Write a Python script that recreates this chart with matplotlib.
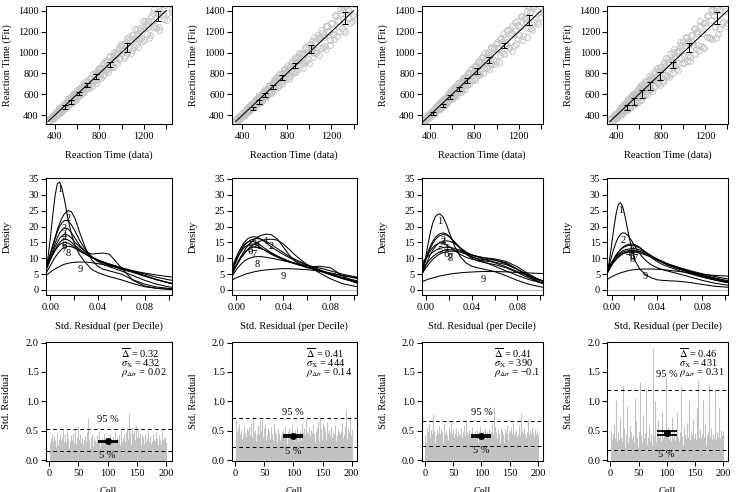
#!/usr/bin/env python3
"""Fit diagnostics for four models: RT data vs fit, residual densities per decile, residuals per cell."""

import numpy as np
import matplotlib

matplotlib.use('Agg')
import matplotlib.pyplot as plt

# ---------------------------------------------------------------- top row data
RT_DATA = [
    340, 352, 363, 373, 382, 391, 399, 407, 414, 421,
    428, 435, 441, 447, 453, 459, 465, 471, 477, 483,
    489, 495, 501, 507, 513, 519, 525, 531, 537, 543,
    549, 555, 561, 567, 573, 579, 586, 593, 600, 607,
    614, 621, 628, 635, 642, 649, 656, 664, 672, 680,
    688, 696, 704, 712, 720, 728, 737, 746, 755, 764,
    773, 782, 791, 800, 810, 820, 830, 840, 850, 860,
    870, 880, 891, 902, 913, 924, 935, 946, 957, 968,
    980, 992, 1004, 1016, 1028, 1040, 1052, 1064, 1077, 1090,
    1103, 1116, 1129, 1142, 1155, 1169, 1183, 1197, 1211, 1225,
    1240, 1255, 1270, 1285, 1300, 1316, 1332, 1348, 1364, 1380,
    1397, 1414, 1431, 1448,
    346, 357, 368, 378, 387, 395, 403, 411, 418, 425,
    431, 438, 444, 450, 456, 462, 468, 474, 480, 486,
    492, 498, 504, 510, 516, 522, 528, 534, 540, 546,
    552, 558, 564, 570, 576, 583, 590, 597, 604, 611,
    618, 625, 632, 639, 646, 653, 660, 668, 676, 684,
    692, 700, 708, 716, 724, 733, 742, 751, 760, 769,
    778, 787, 796, 805, 815, 825, 835, 845, 855, 865,
    875, 886, 897, 908, 919, 930, 941, 952, 963, 974,
    986, 998, 1010, 1022, 1034, 1046, 1058, 1071, 1084, 1097,
    1110, 1123, 1136, 1149, 1162, 1176, 1190, 1204, 1218, 1233,
    1248, 1263, 1278, 1293, 1308, 1324, 1340, 1356, 1372, 1389,
    1405, 1422, 1440, 1450,
]

# fitted minus observed RT, one list per model
RT_OFFSET_1 = [
    8, -12, 15, -5, 20, -18, 3, 12, -9, 22,
    -14, 6, 25, -20, 10, -3, 18, -25, 14, -8,
    28, -15, 5, 20, -22, 12, -6, 30, -18, 9,
    -28, 16, 2, 33, -12, 24, -30, 8, 19, -20,
    35, -10, 22, -34, 14, 4, 38, -24, 11, -16,
    30, -38, 18, 42, -8, 26, -32, 45, -20, 12,
    36, -42, 22, 50, -15, 30, -45, 55, -25, 8,
    48, -35, 62, 15, -50, 40, 68, -28, 25, 58,
    -40, 72, 18, 55, -60, 35, 80, -22, 48, -70,
    65, 20, -55, 85, -30, 50, -75, 40, 90, -45,
    60, -85, 30, 95, -50, 70, -90, 45, 100, -60,
    80, -40, 110, -20,
    -10, 16, -4, 11, -17, 7, 19, -13, 5, -21,
    12, 24, -9, 17, -26, 3, 21, -11, 27, -17,
    8, -29, 23, 1, -24, 31, -10, 18, -32, 14,
    36, -21, 7, -36, 26, 11, -40, 20, 33, -14,
    -30, 18, 40, -26, 7, -44, 30, 16, -37, 44,
    -22, 10, -47, 36, 21, -52, 48, -12, 28, -56,
    20, 58, -34, 40, -62, 14, 52, -48, 65, -18,
    -58, 32, 70, -44, 22, -72, 55, 38, -66, 76,
    -35, 88, 12, -78, 60, -48, 95, 30, -85, 70,
    -62, 100, 25, -95, 75, -40, 110, -88, 55, 15,
    -110, 85, -30, 120, -70, 40, -120, 105, -15, 70,
    -95, 60, 20, -60,
]
RT_OFFSET_2 = [
    -6, 14, -10, 18, 2, -16, 21, -4, 11, -19,
    16, -8, 24, 3, -22, 13, -12, 27, -6, 19,
    -24, 10, 29, -14, 6, 25, -20, 15, -9, 32,
    4, -26, 21, 11, -31, 28, -7, 36, -18, 14,
    -33, 26, 7, 40, -21, 17, -36, 32, 2, 44,
    -27, 20, 48, -12, 35, -40, 14, 52, -30, 38,
    -18, 56, 10, -44, 45, 24, -52, 60, 18, -35,
    66, 30, -48, 55, 12, 72, -38, 42, -60, 78,
    28, -52, 64, 15, 85, -45, 50, -68, 92, 35,
    -58, 75, 20, -80, 98, 40, -65, 85, 10, -95,
    105, 50, -70, 90, 25, -100, 115, 60, -80, 95,
    -50, 120, 30, -70,
    14, -8, 19, -15, 4, 22, -11, 9, -20, 17,
    -5, 26, -16, 8, 29, -22, 13, -4, 31, -19,
    24, 6, -28, 35, -9, 19, -34, 27, 2, -30,
    38, -15, 24, -39, 11, 42, -28, 6, 45, -35,
    21, -44, 33, 48, -17, 29, -50, 40, -6, 53,
    -38, 25, 58, -46, 15, 62, -30, 44, -58, 9,
    66, -42, 28, 70, -65, 48, -20, 75, -50, 36,
    80, -72, 22, 84, -40, 58, -88, 30, 92, -60,
    45, -95, 72, 15, -80, 100, -38, 65, -105, 55,
    110, -70, 35, -115, 90, 20, -120, 80, -45, 125,
    -90, 40, 130, -60, 100, -125, 75, -30, 140, -85,
    60, -100, 45, -80,
]
RT_OFFSET_3 = [
    10, -4, 17, -13, 6, 20, -9, 14, -17, 4,
    23, -11, 9, -21, 19, 1, -15, 26, -7, 16,
    -19, 30, 7, -25, 18, -4, 33, -16, 22, -11,
    27, -29, 12, 35, -6, 20, -33, 29, -13, 38,
    9, -36, 31, -18, 42, 15, -27, 46, -9, 33,
    -42, 24, 50, -20, 38, 6, -48, 55, -14, 44,
    -36, 58, 20, -50, 62, 30, -28, 68, -55, 40,
    10, 75, -42, 52, -62, 80, 22, -48, 88, -30,
    60, -72, 95, 25, -55, 102, 45, -82, 70, -20,
    108, -60, 55, 115, -90, 40, 120, -70, 30, 125,
    -85, 65, 130, -55, 90, -100, 110, 20, -75, 135,
    -60, 100, -30, 60,
    -7, 13, -15, 21, -3, 16, -22, 10, 25, -12,
    18, -27, 6, 29, -18, 22, -5, 33, -24, 14,
    -31, 26, 9, -35, 20, 37, -15, 28, -38, 5,
    32, -41, 18, 44, -27, 12, 47, -34, 24, -46,
    50, -8, 38, -52, 27, 55, -40, 18, -58, 45,
    -25, 60, 32, -62, 48, -15, 66, -52, 36, 70,
    -45, 24, 75, -68, 50, -30, 82, -60, 40, 88,
    -75, 28, 95, -50, 65, -90, 35, 100, -70, 58,
    -100, 80, 20, -110, 92, -45, 115, -85, 50, 120,
    -65, 98, -120, 30, 130, -95, 72, -40, 135, -110,
    85, 25, -130, 140, -70, 110, -50, 145, -100, 60,
    120, -40, 80, -90,
]
RT_OFFSET_4 = [
    -12, 18, -20, 9, 25, -16, 4, -26, 21, -8,
    30, -22, 13, -32, 6, 27, -18, 35, -28, 10,
    -35, 24, 40, -15, 18, -40, 32, -6, 45, -30,
    15, -45, 38, 5, -50, 28, 48, -22, 12, -55,
    42, -35, 55, 8, -60, 35, -18, 58, -42, 20,
    62, -50, 30, -65, 48, 10, -70, 55, -30, 68,
    -58, 40, 75, -45, 20, -80, 62, 35, -72, 82,
    15, -90, 70, -40, 88, 25, -95, 60, -55, 100,
    -30, 78, -100, 45, 110, -65, 30, -110, 90, -20,
    120, -80, 55, -120, 100, 15, -130, 85, -60, 130,
    -100, 60, 140, -40, 95, -140, 70, -80, 150, 20,
    -110, 90, -50, 40,
    16, -22, 6, 28, -14, 20, -30, 11, 33, -19,
    -8, 36, -25, 17, 40, -35, 8, 43, -20, 30,
    -45, 14, 48, -28, 36, -52, 22, 50, -38, 6,
    55, -48, 30, -60, 42, 18, -62, 52, -26, 64,
    -70, 34, 66, -45, 10, 72, -58, 46, -78, 24,
    80, -40, 58, -85, 36, 88, -66, 14, 90, -75,
    48, -95, 70, 25, -100, 82, -48, 105, -82, 40,
    -110, 95, 30, -105, 115, -62, 78, -120, 50, 125,
    -90, 108, -40, 130, -115, 66, -135, 92, 20, 140,
    -125, 80, -60, 150, -100, 110, -145, 45, 135, -80,
    155, -130, 70, -150, 120, -95, 160, -60, 100, -140,
    90, -120, 130, -70,
]

# decile error bars (observed decile, fitted interval)
DEC_X_1 = [495, 549, 615, 690, 773, 893, 1051, 1328]
DEC_LO_1 = [464, 512, 592, 666, 749, 865, 1009, 1297]
DEC_HI_1 = [496, 544, 624, 704, 794, 913, 1089, 1394]
DEC_X_2 = [496, 547, 601, 675, 759, 870, 1020, 1319]
DEC_LO_2 = [448, 506, 570, 647, 737, 849, 993, 1275]
DEC_HI_2 = [480, 544, 608, 688, 785, 903, 1073, 1384]
DEC_X_3 = [430, 514, 580, 660, 735, 825, 930, 1065, 1289]
DEC_LO_3 = [400, 480, 554, 634, 711, 794, 897, 1041, 1265]
DEC_HI_3 = [432, 512, 592, 672, 753, 849, 954, 1095, 1361]
DEC_X_4 = [490, 559, 629, 701, 791, 905, 1056, 1302]
DEC_LO_4 = [448, 496, 567, 640, 737, 849, 1009, 1275]
DEC_HI_4 = [496, 560, 640, 714, 817, 913, 1089, 1384]

# ---------------------------------------------------------------- middle row data
DENS_X = [-0.004, -0.002, 0.000, 0.002, 0.004, 0.006, 0.008, 0.010, 0.012, 0.015, 0.018, 0.021,
          0.025, 0.030, 0.035, 0.040, 0.045, 0.050, 0.060, 0.070, 0.080, 0.090, 0.100, 0.104]

DENS_1 = [
    [5.5, 10, 16, 23, 29.5, 33.5, 34, 32, 28.5, 22.5, 17.5, 14, 11, 8.5, 6.5, 5.5, 4.8, 4.2, 3.2, 2.0, 1.0, 0.5, 0.3, 0.2],
    [7, 9, 11.5, 14, 16.5, 19, 21, 22.8, 24, 25, 24.6, 22.5, 18, 13, 9.5, 7.5, 6.5, 6, 5, 3.2, 1.8, 0.9, 0.5, 0.4],
    [6.5, 8.5, 11, 13.5, 16, 18.3, 20, 21.2, 21.9, 21.8, 20.5, 18.5, 15.5, 12.5, 10.5, 9, 8, 7.3, 6, 4.5, 3, 1.8, 1, 0.8],
    [6, 8, 10, 12.5, 14.5, 16.5, 18, 19, 19.5, 19.3, 18, 16.3, 14, 12, 11.3, 11.5, 11.6, 11.3, 7, 3, 1.2, 0.5, 0.2, 0.15],
    [6, 7.5, 9.5, 11.5, 13.5, 15, 16.3, 17.1, 17.5, 17.3, 16.3, 15, 13.5, 12, 10.5, 9.5, 8.5, 7.8, 6.5, 5.5, 4.3, 3.2, 2.3, 2],
    [6.5, 8, 9.5, 11, 12.5, 14, 15, 15.7, 16, 15.8, 15, 14, 12.8, 11.5, 10.3, 9.3, 8.5, 7.8, 6.8, 5.8, 4.5, 3.3, 2.3, 2],
    [7, 8.3, 9.7, 11, 12.3, 13.4, 14.3, 14.8, 15, 14.8, 14.2, 13.4, 12.3, 11.2, 10.2, 9.5, 8.8, 8.2, 7, 5.8, 4.5, 3.2, 2.2, 1.8],
    [5, 6.3, 7.6, 9, 10.2, 11.3, 12.2, 12.9, 13.4, 13.8, 13.6, 13.1, 12.3, 11.2, 10.3, 9.5, 8.8, 8.1, 7, 6, 5, 4, 3.2, 3],
    [4.5, 5, 5.6, 6.1, 6.6, 7, 7.4, 7.8, 8.1, 8.4, 8.6, 8.75, 8.8, 8.8, 8.6, 8.3, 8, 7.6, 6.8, 6, 5.3, 4.7, 4.2, 4],
]
DENS_2 = [
    [4.5, 6, 7.5, 9, 10.5, 11.8, 13, 14, 14.8, 15.8, 16.6, 17.2, 17.6, 17.4, 16, 13.5, 11, 9, 7, 7.5, 7, 4.5, 2.5, 2],
    [5, 6.3, 7.6, 8.8, 10, 11, 12, 12.8, 13.5, 14.3, 15, 15.5, 15.9, 16, 15.7, 14.5, 12.8, 11, 8, 5.5, 3.5, 2, 1.2, 1],
    [6, 8, 10, 11.8, 13.3, 14.6, 15.5, 16.2, 16.6, 16.8, 16.6, 16, 15, 13.5, 12.3, 11.2, 10.2, 9.3, 7.8, 6.3, 4.8, 3.6, 2.7, 2.4],
    [5, 7, 9, 10.8, 12.3, 13.5, 14.5, 15.2, 15.7, 16.1, 16.2, 16, 15.4, 14.3, 13, 11.8, 10.6, 9.6, 8, 6.5, 5, 3.6, 2.5, 2.2],
    [6.5, 8.5, 10.3, 11.8, 13, 14, 14.7, 15.1, 15.3, 15.2, 14.7, 14, 12.9, 11.7, 10.7, 9.8, 9, 8.4, 7.3, 6.2, 5, 4, 3.1, 2.8],
    [5.5, 7.5, 9.3, 10.8, 12, 13, 13.7, 14.2, 14.5, 14.4, 14, 13.3, 12.3, 11.2, 10.3, 9.5, 8.8, 8.2, 7.1, 6, 4.8, 3.7, 2.8, 2.5],
    [4.5, 6.2, 7.8, 9.2, 10.4, 11.4, 12.2, 12.8, 13.2, 13.5, 13.4, 13, 12.4, 11.5, 10.6, 9.8, 9, 8.3, 7.2, 6.2, 5.3, 4.5, 3.8, 3.5],
    [4, 5.2, 6.3, 7.3, 8.1, 8.8, 9.4, 9.8, 10.1, 10.4, 10.5, 10.5, 10.3, 10, 9.6, 9.2, 8.8, 8.4, 7.7, 7, 6, 5, 4.2, 4],
    [3, 3.4, 3.8, 4.1, 4.4, 4.7, 5, 5.2, 5.4, 5.7, 5.9, 6.1, 6.3, 6.5, 6.6, 6.7, 6.7, 6.6, 6.4, 6, 5.3, 4.6, 4, 3.8],
]
DENS_3 = [
    [4.5, 7.5, 11, 15, 18.5, 21.3, 23, 23.8, 24, 23, 20.5, 17.5, 13.8, 10.5, 8.5, 7.5, 7, 6.6, 5.8, 4.5, 3, 1.8, 1, 0.8],
    [6, 8, 10.2, 12.3, 14, 15.4, 16.5, 17.2, 17.7, 18, 17.6, 16.7, 15, 13, 11.3, 10, 9.2, 8.7, 8, 7, 5.5, 3.8, 2.3, 2],
    [5.5, 7.5, 9.6, 11.6, 13.3, 14.7, 15.8, 16.6, 17.1, 17.5, 17.3, 16.6, 15.2, 13.2, 11.5, 10.3, 9.8, 9.6, 9.4, 8.6, 6.5, 4.2, 2.5, 2],
    [4.5, 6.2, 8, 9.8, 11.3, 12.6, 13.6, 14.4, 15, 15.4, 15.5, 15.3, 14.6, 13.3, 12, 11, 10.5, 10.2, 9.8, 9, 7.3, 5, 3, 2.5],
    [7, 8.6, 10.1, 11.4, 12.5, 13.4, 14.1, 14.5, 14.8, 14.7, 14.2, 13.5, 12.4, 11.2, 10.3, 9.7, 9.4, 9.2, 8.8, 8, 6.5, 4.6, 3, 2.6],
    [8.5, 9.3, 10, 10.7, 11.3, 11.9, 12.4, 12.8, 13.1, 13.4, 13.5, 13.4, 13.1, 12.5, 11.8, 11.1, 10.6, 10.2, 9.5, 8.3, 6.5, 4.6, 3.2, 2.8],
    [6, 7, 8, 9, 9.8, 10.5, 11.1, 11.6, 12, 12.4, 12.6, 12.7, 12.6, 12.2, 11.6, 11, 10.4, 9.8, 8.6, 7.3, 5.8, 4.3, 3, 2.7],
    [5, 6, 7, 8, 8.9, 9.7, 10.3, 10.9, 11.3, 11.8, 12, 12.2, 12.2, 11.9, 11.3, 10.6, 9.8, 9, 7.5, 6, 4.6, 3.3, 2.3, 2],
    [2.5, 2.8, 3.1, 3.4, 3.6, 3.8, 4, 4.2, 4.4, 4.6, 4.8, 5, 5.2, 5.4, 5.55, 5.65, 5.75, 5.8, 5.8, 5.7, 5.5, 5.35, 5.2, 5.15],
]
DENS_4 = [
    [5.5, 9, 14, 19.5, 24, 27, 27.5, 26, 23, 17.5, 12.5, 9, 6.5, 4.8, 3.8, 3.2, 3, 2.9, 2.7, 2.3, 1.7, 1.2, 0.9, 0.8],
    [6, 8, 10.5, 13, 15, 16.6, 17.6, 18, 17.9, 17, 15.3, 13.5, 11.3, 9.3, 7.9, 7, 6.4, 5.9, 5, 4, 3, 2.2, 1.6, 1.4],
    [5, 6.5, 8, 9.5, 10.8, 11.9, 12.8, 13.5, 14, 14.4, 14.5, 14.2, 13.4, 11.8, 10.2, 9, 8, 7.3, 6, 5, 4, 3.2, 2.5, 2.3],
    [5.5, 7, 8.5, 9.8, 11, 12, 12.8, 13.3, 13.7, 14, 14, 13.8, 13.2, 12, 10.8, 9.6, 8.6, 7.8, 6.5, 5.3, 4.2, 3.2, 2.4, 2.2],
    [6, 7.3, 8.5, 9.6, 10.5, 11.3, 11.9, 12.4, 12.7, 12.9, 13, 13, 12.6, 11.7, 10.6, 9.6, 8.6, 7.8, 6.5, 5.4, 4.4, 3.5, 2.8, 2.6],
    [6.5, 7.6, 8.7, 9.6, 10.4, 11, 11.5, 11.9, 12.2, 12.4, 12.5, 12.4, 12.1, 11.3, 10.4, 9.5, 8.7, 8, 6.8, 5.6, 4.6, 3.6, 2.8, 2.6],
    [6, 7.1, 8.2, 9.1, 9.9, 10.6, 11.1, 11.5, 11.8, 12.1, 12.2, 12.3, 12.1, 11.5, 10.7, 9.8, 9, 8.2, 6.9, 5.8, 4.8, 3.9, 3.1, 2.9],
    [5.2, 6.5, 7.7, 8.7, 9.6, 10.3, 10.9, 11.4, 11.7, 11.9, 12, 11.9, 11.6, 11, 10.3, 9.5, 8.8, 8.1, 7, 6, 5.1, 4.3, 3.6, 3.4],
    [3.3, 3.7, 4.1, 4.5, 4.8, 5.1, 5.4, 5.6, 5.8, 6.1, 6.3, 6.45, 6.55, 6.6, 6.6, 6.5, 6.4, 6.2, 5.8, 5.3, 4.9, 4.6, 4.4, 4.3],
]

# ---------------------------------------------------------------- bottom row data
RESID_1 = [
    0.31, 0.22, 0.38, 0.27, 0.45, 0.24, 0.33, 0.19, 0.41, 0.28, 0.35, 0.23, 0.30, 0.47, 0.26, 0.21, 0.36, 0.29, 0.43, 0.25,
    0.34, 0.20, 0.39, 0.52, 0.27, 0.31, 0.22, 0.44, 0.30, 0.26, 0.49, 0.24, 0.37, 0.21, 0.33, 0.28, 0.42, 0.25, 0.35, 0.19,
    0.46, 0.29, 0.23, 0.55, 0.32, 0.27, 0.40, 0.21, 0.58, 0.30, 0.24, 0.36, 0.45, 0.26, 0.31, 0.20, 0.38, 0.28, 0.34, 0.23,
    0.41, 0.27, 0.33, 0.22, 0.48, 0.30, 0.72, 0.25, 0.36, 0.21, 0.39, 0.28, 0.32, 0.44, 0.24, 0.29, 0.37, 0.20, 0.34, 0.26,
    0.31, 0.42, 0.23, 0.35, 0.28, 0.50, 0.22, 0.33, 0.27, 0.38, 0.25, 0.30, 0.46, 0.21, 0.34, 0.29, 0.24, 0.40, 0.26, 0.32,
    0.28, 0.37, 0.22, 0.45, 0.30, 0.25, 0.35, 0.19, 0.41, 0.27, 0.33, 0.48, 0.24, 0.31, 0.26, 0.39, 0.21, 0.36, 0.29, 0.43,
    0.25, 0.34, 0.51, 0.23, 0.30, 0.38, 0.27, 0.44, 0.22, 0.32, 0.47, 0.26, 0.55, 0.29, 0.36, 0.62, 0.80, 0.33, 0.48, 0.28,
    0.57, 0.31, 0.44, 0.25, 0.52, 0.35, 0.29, 0.60, 0.27, 0.40, 0.33, 0.54, 0.23, 0.38, 0.46, 0.30, 0.26, 0.42, 0.35, 0.24,
    0.39, 0.28, 0.33, 0.45, 0.22, 0.31, 0.37, 0.26, 0.49, 0.30, 0.24, 0.35, 0.41, 0.27, 0.32, 0.21, 0.44, 0.29, 0.36, 0.25,
    0.33, 0.47, 0.23, 0.30, 0.38, 0.26, 0.42, 0.31, 0.22, 0.35, 0.28, 0.51, 0.25, 0.34, 0.29, 0.40, 0.24, 0.37, 0.27, 0.30,
]
RESID_2 = [
    0.68, 0.35, 0.47, 0.29, 0.55, 0.38, 0.62, 0.31, 0.44, 0.27, 0.51, 0.36, 0.42, 0.30, 0.58, 0.33, 0.46, 0.26, 0.40, 0.53,
    0.37, 0.49, 0.28, 0.56, 0.34, 0.43, 0.31, 0.64, 0.39, 0.71, 0.35, 0.48, 0.27, 0.52, 0.41, 0.33, 0.45, 0.29, 0.60, 0.38,
    0.44, 0.30, 0.66, 0.36, 0.50, 0.28, 0.69, 0.40, 0.55, 0.32, 0.47, 0.62, 0.35, 0.43, 0.26, 0.54, 0.39, 0.31, 0.48, 0.36,
    0.42, 0.57, 0.29, 0.45, 0.34, 0.61, 0.38, 0.27, 0.50, 0.33, 0.44, 0.30, 0.39, 0.53, 0.28, 0.46, 0.35, 0.41, 0.31, 0.48,
    0.37, 0.29, 0.52, 0.40, 0.33, 0.58, 0.36, 0.44, 0.27, 0.49, 0.38, 0.31, 0.55, 0.42, 0.34, 0.47, 0.30, 0.60, 0.39, 0.45,
    0.33, 0.51, 0.41, 0.28, 0.46, 0.37, 0.56, 0.32, 0.43, 0.30, 0.49, 0.38, 0.35, 0.63, 0.40, 0.29, 0.47, 0.36, 0.54, 0.42,
    0.70, 0.34, 0.48, 0.31, 0.44, 0.57, 0.37, 0.41, 0.29, 0.52, 0.36, 0.46, 0.33, 0.61, 0.39, 0.45, 0.30, 0.50, 0.35, 0.43,
    0.55, 0.38, 0.67, 0.32, 0.47, 0.74, 0.40, 0.53, 0.35, 0.62, 0.44, 0.31, 0.58, 0.41, 0.49, 0.36, 0.65, 0.39, 0.46, 0.34,
    0.51, 0.37, 0.43, 0.30, 0.56, 0.40, 0.34, 0.48, 0.28, 0.45, 0.38, 0.60, 0.33, 0.42, 0.36, 0.53, 0.31, 0.47, 0.39, 0.44,
    0.35, 0.50, 0.41, 0.63, 0.37, 0.45, 0.32, 0.58, 0.40, 0.86, 0.46, 0.36, 0.54, 0.39, 0.48, 0.33, 0.70, 0.42, 0.37, 0.52,
]
RESID_3 = [
    0.42, 0.30, 0.55, 0.36, 0.47, 0.28, 0.61, 0.34, 0.40, 0.52, 0.31, 0.45, 0.38, 0.66, 0.78, 0.35, 0.49, 0.29, 0.43, 0.37,
    0.51, 0.33, 0.46, 0.27, 0.58, 0.39, 0.44, 0.31, 0.53, 0.36, 0.48, 0.29, 0.41, 0.62, 0.34, 0.45, 0.30, 0.50, 0.38, 0.43,
    0.35, 0.57, 0.40, 0.31, 0.47, 0.68, 0.37, 0.44, 0.28, 0.52, 0.39, 0.33, 0.46, 0.30, 0.55, 0.41, 0.36, 0.49, 0.27, 0.43,
    0.38, 0.45, 0.32, 0.54, 0.40, 0.29, 0.47, 0.36, 0.60, 0.33, 0.42, 0.65, 0.31, 0.48, 0.37, 0.44, 0.28, 0.51, 0.35, 0.41,
    0.46, 0.33, 0.39, 0.56, 0.30, 0.43, 0.37, 0.49, 0.28, 0.45, 0.34, 0.52, 0.40, 0.31, 0.47, 0.36, 0.58, 0.42, 0.29, 0.44,
    0.37, 0.50, 0.33, 0.41, 0.29, 0.55, 0.38, 0.45, 0.32, 0.48, 0.40, 0.27, 0.53, 0.36, 0.43, 0.31, 0.47, 0.62, 0.39, 0.34,
    0.45, 0.90, 0.41, 0.57, 0.33, 0.48, 0.38, 0.30, 0.52, 0.42, 0.36, 0.46, 0.29, 0.55, 0.40, 0.34, 0.49, 0.37, 0.44, 0.31,
    0.53, 0.39, 0.46, 0.32, 0.60, 0.41, 0.35, 0.48, 0.28, 0.50, 0.43, 0.37, 0.56, 0.33, 0.45, 0.64, 0.38, 0.42, 0.30, 0.47,
    0.36, 0.52, 0.40, 0.45, 0.31, 0.58, 0.37, 0.43, 0.34, 0.80, 0.41, 0.49, 0.29, 0.46, 0.38, 0.55, 0.33, 0.44, 0.40, 0.35,
    0.48, 0.31, 0.70, 0.42, 0.37, 0.51, 0.34, 0.45, 0.39, 0.57, 0.30, 0.47, 0.41, 0.53, 0.36, 0.44, 0.32, 0.49, 0.38, 0.43,
]
RESID_4 = [
    0.52, 0.28, 0.35, 0.21, 0.44, 0.30, 0.62, 0.25, 0.38, 1.02, 0.27, 0.33, 0.48, 0.23, 0.36, 0.29, 0.71, 0.26, 0.40, 0.32,
    0.24, 1.28, 0.37, 0.30, 0.55, 0.22, 0.34, 0.45, 0.28, 0.92, 0.31, 0.26, 0.39, 0.58, 0.24, 0.33, 0.47, 0.29, 0.36, 0.27,
    0.41, 0.30, 1.06, 0.25, 0.35, 0.66, 0.28, 0.38, 0.23, 0.50, 0.32, 0.27, 1.33, 0.34, 0.42, 0.26, 0.30, 0.77, 0.24, 0.37,
    0.29, 0.46, 1.22, 0.31, 0.27, 0.40, 0.35, 0.23, 0.60, 0.33, 0.28, 0.44, 0.38, 0.25, 1.90, 0.32, 0.41, 0.27, 0.36, 1.00,
    0.30, 0.48, 0.24, 0.35, 0.68, 0.29, 0.39, 0.26, 0.45, 0.33, 0.84, 0.28, 0.37, 0.23, 0.52, 0.31, 0.42, 1.42, 0.34, 0.27,
    0.40, 0.30, 0.56, 0.25, 0.36, 0.46, 0.28, 0.33, 0.74, 0.24, 0.38, 0.31, 0.49, 0.27, 0.35, 0.43, 0.29, 0.82, 0.34, 0.26,
    0.39, 0.32, 0.47, 0.28, 0.36, 1.26, 0.30, 0.41, 0.25, 0.58, 0.34, 0.29, 0.44, 0.37, 0.27, 0.63, 0.31, 0.40, 0.24, 1.01,
    0.35, 0.28, 0.50, 0.33, 0.42, 0.26, 0.70, 0.31, 0.38, 0.29, 0.46, 0.35, 0.27, 0.88, 1.36, 0.32, 0.40, 0.25, 0.53, 0.30,
    0.37, 0.28, 0.45, 0.34, 1.02, 0.29, 0.39, 0.31, 0.61, 0.26, 0.43, 0.33, 0.48, 0.36, 1.30, 0.27, 0.41, 0.30, 0.55, 0.35,
    0.28, 0.44, 0.32, 0.38, 0.25, 1.21, 0.36, 0.30, 0.47, 0.27, 0.40, 0.33, 0.90, 0.29, 0.37, 0.52, 0.31, 0.42, 0.26, 0.50,
]

MEAN_RESID = [0.32, 0.41, 0.41, 0.46]
SE_RESID = [0.01, 0.01, 0.01, 0.03]
Q05 = [0.15, 0.22, 0.24, 0.17]
Q95 = [0.53, 0.72, 0.67, 1.19]
SIGMA_X = [432, 444, 390, 431]
RHO = [0.02, 0.14, -0.1, 0.31]

# ---------------------------------------------------------------- layout (pixels)
W, H = 738, 492
COL_PX = [(45.5, 171.5), (231.5, 357.0), (421.5, 543.0), (607.0, 728.0)]
ROW_PX = [(6, 124), (178, 295), (342, 461)]
TOP_XLIM = [(317, 1448), (302, 1430), (325, 1418), (313, 1405)]
LABEL95_Y = [0.69, 0.81, 0.81, 1.45]

FS = 7.5
LINE_W = 0.75
BAR_GREY = '#c2c2c2'
PT_GREY = '#c4c4c4'

plt.rcParams['font.family'] = ['Liberation Serif', 'DejaVu Serif']
plt.rcParams['mathtext.fontset'] = 'stix'
plt.rcParams['font.size'] = FS
plt.rcParams['axes.linewidth'] = LINE_W


def make_axes(fig, col, row):
    x0, x1 = COL_PX[col]
    y0, y1 = ROW_PX[row]
    ax = fig.add_axes([x0 / W, 1 - y1 / H, (x1 - x0) / W, (y1 - y0) / H])
    ax.tick_params(direction='out', length=3.4, width=LINE_W, labelsize=FS)
    ax.tick_params(axis='y', pad=1.5)
    ax.tick_params(axis='x', pad=2.5)
    return ax, x1 - x0, y1 - y0


def set_labels(ax, w_px, h_px, xlabel, ylabel):
    ax.set_xlabel(xlabel, fontsize=FS, va='center')
    ax.set_ylabel(ylabel, fontsize=FS, va='center')
    ax.xaxis.set_label_coords(0.5, -31 / h_px)
    ax.yaxis.set_label_coords(-38.5 / w_px, 0.5)


fig = plt.figure(figsize=(W / 100, H / 100), dpi=100)

rt_offsets = [RT_OFFSET_1, RT_OFFSET_2, RT_OFFSET_3, RT_OFFSET_4]
deciles = [(DEC_X_1, DEC_LO_1, DEC_HI_1), (DEC_X_2, DEC_LO_2, DEC_HI_2),
           (DEC_X_3, DEC_LO_3, DEC_HI_3), (DEC_X_4, DEC_LO_4, DEC_HI_4)]
densities = [DENS_1, DENS_2, DENS_3, DENS_4]
residuals = [RESID_1, RESID_2, RESID_3, RESID_4]

dens_x = np.array(DENS_X)

for i in range(4):
    # --- data vs fit
    ax, w_px, h_px = make_axes(fig, i, 0)
    n = min(len(RT_DATA), len(rt_offsets[i]))
    obs = np.array(RT_DATA[:n], dtype=float)
    fit = obs + np.array(rt_offsets[i][:n], dtype=float)
    ax.plot(obs, fit, ls='none', marker='o', ms=4.2, mfc='none', mec=PT_GREY, mew=0.7)
    ax.plot([340, 1400], [340, 1400], color='black', lw=LINE_W)
    dx, lo, hi = (np.array(v, dtype=float) for v in deciles[i])
    mid = (lo + hi) / 2
    ax.errorbar(dx, mid, yerr=(hi - lo) / 2, fmt='none', ecolor='black',
                elinewidth=LINE_W, capsize=2.0, capthick=LINE_W)
    ax.set_xlim(*TOP_XLIM[i])
    ax.set_ylim(316, 1445)
    ax.set_xticks(range(400, 1401, 200))
    ax.set_xticklabels(['400', '', '800', '', '1200', ''])
    ax.set_yticks(range(400, 1401, 200))
    set_labels(ax, w_px, h_px, 'Reaction Time (data)', 'Reaction Time (Fit)')

    # --- residual densities per decile
    ax, w_px, h_px = make_axes(fig, i, 1)
    ax.axhline(0, color='#bdbdbd', lw=LINE_W)
    for k, curve in enumerate(densities[i]):
        yv = np.array(curve)
        ax.plot(dens_x, yv, color='black', lw=LINE_W)
        j = int(np.argmax(yv))
        ax.text(dens_x[j], yv[j] - 2.4, str(k + 1), ha='center', va='center', fontsize=FS)
    ax.set_xlim(-0.004, 0.1025)
    ax.set_ylim(-1.6, 35.3)
    ax.set_xticks([0.0, 0.02, 0.04, 0.06, 0.08, 0.10])
    ax.set_xticklabels(['0.00', '', '0.04', '', '0.08', ''])
    ax.set_yticks(range(0, 36, 5))
    set_labels(ax, w_px, h_px, 'Std. Residual (per Decile)', 'Density')

    # --- residual per cell
    ax, w_px, h_px = make_axes(fig, i, 2)
    vals = np.array(residuals[i])
    cells = np.arange(1, len(vals) + 1)
    ax.vlines(cells, 0, vals, color=BAR_GREY, lw=0.8)
    ax.axhline(Q95[i], color='black', lw=LINE_W, ls=(0, (3.5, 3)))
    ax.axhline(Q05[i], color='black', lw=LINE_W, ls=(0, (3.5, 3)))
    ax.text(100, LABEL95_Y[i], '95 %', ha='center', va='center', fontsize=FS)
    ax.text(100, Q05[i] - 0.07, '5 %', ha='center', va='center', fontsize=FS)
    ax.errorbar([100], [MEAN_RESID[i]], yerr=[SE_RESID[i]], fmt='o', color='black',
                ms=4, elinewidth=1.0, capsize=7, capthick=1.3)
    rho_txt = ('%g' % RHO[i]).replace('-', '\u2212')
    ax.text(122, 1.745, r'$\overline{\Delta}$ = %.2f' % MEAN_RESID[i],
            ha='left', va='baseline', fontsize=FS)
    ax.text(122, 1.600, r'$\sigma_{\mathrm{X}}$ = %d' % SIGMA_X[i],
            ha='left', va='baseline', fontsize=FS)
    ax.text(122, 1.455, r'$\rho_{\Delta\sigma}$ = ' + rho_txt,
            ha='left', va='baseline', fontsize=FS)
    ax.set_xlim(-6, 209)
    ax.set_ylim(-0.015, 2.01)
    ax.set_xticks([0, 50, 100, 150, 200])
    ax.set_yticks([0.0, 0.5, 1.0, 1.5, 2.0])
    ax.set_yticklabels(['0.0', '0.5', '1.0', '1.5', '2.0'])
    set_labels(ax, w_px, h_px, 'Cell', 'Std. Residual')

fig.savefig('out.png', dpi=100)
print('Wrote out.png')
